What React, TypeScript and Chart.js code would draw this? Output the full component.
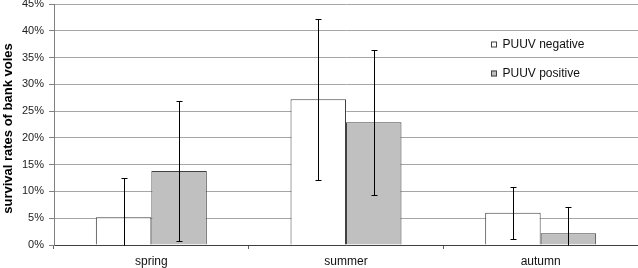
import React, { useEffect, useRef } from "react";
import { Chart, registerables } from "chart.js";

Chart.register(...registerables);

const categories = ["spring", "summer", "autumn"];
const seriesNames = ["PUUV negative", "PUUV positive"];
const negativeValues = [5.2, 27.2, 6.0];
const negativeErrors = [7.3, 15.0, 4.9];
const positiveValues = [13.8, 22.9, 2.2];
const positiveErrors = [13.0, 13.5, 4.9];
const yTicks = [0, 5, 10, 15, 20, 25, 30, 35, 40, 45];
const yTitle = "survival rates of bank voles";

const FONT = "'Liberation Sans', Arial, Helvetica, sans-serif";
const fills = ["#ffffff", "#c0c0c0"];
const errorsBySeries = [negativeErrors, positiveErrors];

const errorBarPlugin = {
  id: "errorBars",
  afterDatasetsDraw(chart: any) {
    const { ctx, chartArea, scales } = chart;
    const y = scales.y;
    ctx.save();
    ctx.beginPath();
    ctx.rect(chartArea.left, chartArea.top, chartArea.right - chartArea.left, chartArea.bottom - chartArea.top + 1);
    ctx.clip();
    ctx.strokeStyle = "#000000";
    ctx.lineWidth = 1;
    chart.data.datasets.forEach((ds: any, di: number) => {
      const meta = chart.getDatasetMeta(di);
      meta.data.forEach((bar: any, i: number) => {
        const v = ds.data[i];
        const e = errorsBySeries[di][i];
        const x = Math.round(bar.x) + 0.5;
        const hiV = v + e;
        const loV = v - e;
        const yHi = Math.round(y.getPixelForValue(hiV)) + 0.5;
        const yLo = Math.round(y.getPixelForValue(Math.max(loV, 0))) + 0.5;
        ctx.beginPath();
        ctx.moveTo(x, yHi);
        ctx.lineTo(x, yLo);
        ctx.moveTo(x - 3, yHi);
        ctx.lineTo(x + 3, yHi);
        if (loV > 0) {
          ctx.moveTo(x - 3, yLo);
          ctx.lineTo(x + 3, yLo);
        }
        ctx.stroke();
      });
    });
    ctx.restore();
  },
};

const customTextPlugin = {
  id: "customText",
  afterDraw(chart: any) {
    const { ctx } = chart;
    ctx.save();
    // y-axis title
    ctx.fillStyle = "#000000";
    ctx.font = `bold 13px ${FONT}`;
    ctx.textAlign = "center";
    ctx.textBaseline = "middle";
    ctx.translate(8, 128.5);
    ctx.rotate(-Math.PI / 2);
    ctx.fillText(yTitle, 0, 0);
    ctx.restore();

    // legend
    ctx.save();
    ctx.font = `12px ${FONT}`;
    ctx.textAlign = "left";
    ctx.textBaseline = "middle";
    const rows = [44.5, 73.5];
    seriesNames.forEach((name, i) => {
      const cy = rows[i];
      ctx.fillStyle = fills[i];
      ctx.fillRect(491, cy - 3, 6, 6);
      ctx.strokeStyle = "#404040";
      ctx.lineWidth = 1;
      ctx.strokeRect(491.5, cy - 2.5, 5, 5);
      ctx.fillStyle = "#111111";
      ctx.fillText(name, 502.5, cy);
    });
    ctx.restore();
  },
};

export default function App() {
  const ref = useRef<HTMLCanvasElement>(null);
  useEffect(() => {
    if (!ref.current) return;
    const chart = new Chart(ref.current, {
      type: "bar",
      data: {
        labels: categories,
        datasets: [
          {
            label: seriesNames[0],
            data: negativeValues,
            backgroundColor: fills[0],
            borderColor: "#404040",
            borderWidth: 1,
            categoryPercentage: 0.57,
            barPercentage: 1,
          },
          {
            label: seriesNames[1],
            data: positiveValues,
            backgroundColor: fills[1],
            borderColor: "#404040",
            borderWidth: 1,
            categoryPercentage: 0.57,
            barPercentage: 1,
          },
        ],
      },
      options: {
        responsive: false,
        animation: false,
        devicePixelRatio: 1,
        layout: { padding: { top: 4, right: 0, left: 0, bottom: 0 } },
        plugins: { legend: { display: false }, tooltip: { enabled: false } },
        scales: {
          x: {
            grid: {
              offset: true,
              drawOnChartArea: false,
              drawTicks: true,
              tickLength: 4,
              tickColor: "#606060",
            },
            border: { color: "#404040", width: 1 },
            ticks: {
              color: "#111111",
              font: { family: FONT, size: 12 },
              padding: 5,
            },
            afterFit: (s: any) => {
              s.height = 23;
              s.paddingLeft = 0;
              s.paddingRight = 0;
            },
          },
          y: {
            min: 0,
            max: 45,
            afterBuildTicks: (s: any) => {
              s.ticks = yTicks.map((v) => ({ value: v }));
            },
            grid: {
              color: "#a6a6a6",
              tickColor: "#808080",
              tickLength: 5,
              drawTicks: true,
            },
            border: { color: "#808080", width: 1 },
            ticks: {
              color: "#222222",
              font: { family: FONT, size: 11 },
              padding: 5,
              callback: (v: any) => `${v}%`,
            },
            afterFit: (s: any) => {
              s.width = 54;
              s.paddingTop = 0;
              s.paddingBottom = 0;
            },
          },
        },
      },
      plugins: [errorBarPlugin, customTextPlugin],
    });
    return () => chart.destroy();
  }, []);
  return (
    <div style={{ position: "absolute", left: 0, top: 0, width: 638, height: 268 }}>
      <canvas ref={ref} width={638} height={268} style={{ display: "block" }} />
    </div>
  );
}
